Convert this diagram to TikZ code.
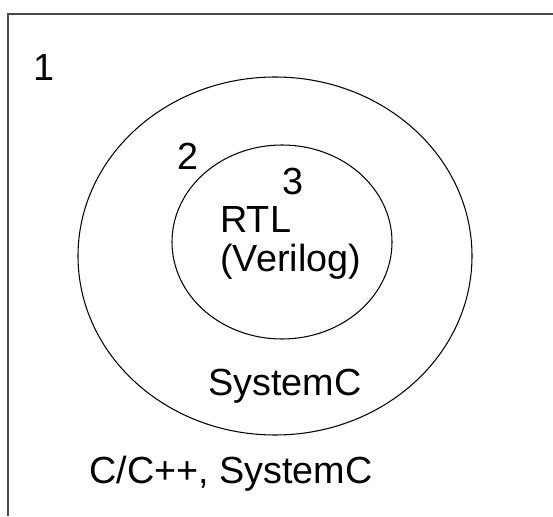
\documentclass[tikz,border=0pt]{standalone}
\usepackage{fontspec}
\setmainfont{Liberation Sans}
\usepackage{tikz}
\usepackage{xcolor}
\usetikzlibrary{positioning}
\definecolor{ink}{HTML}{000000}
\definecolor{frame}{HTML}{4A4A4A}
\tikzset{
  scopebox/.style={draw=frame,line width=1.1pt},
  ring/.style={draw=ink,line width=0.6pt},
  tag/.style={anchor=base west,inner sep=0pt,text=ink,
              font=\fontsize{21.5}{22.2}\selectfont,align=left}
}

\begin{document}
\begin{tikzpicture}[x=0.02cm,y=-0.02cm]
      \useasboundingbox (0,0) rectangle (553,516);
      \coordinate (fbl) at (8,516);
      \coordinate (ftl) at (8,14);
      \coordinate (ftr) at (553,14);
      \draw[scopebox] (fbl)--(ftl)--(ftr);
      \draw[ring] (275,256) ellipse (197 and 179);
      \draw[ring] (282,242) ellipse (110 and 97);
      \node[tag] (one) at (33,81) {1};
      \node[tag] (two) at (177,170) {2};
      \node[tag] (three) at (282,195) {3};
      \node[tag] (rtl) at (220,272) {RTL\\(Verilog)};
      \node[tag] (sysc) at (208,395) {SystemC};
      \node[tag] (lang) at (89,483) {C/C++, SystemC};
    \end{tikzpicture}
\end{document}
